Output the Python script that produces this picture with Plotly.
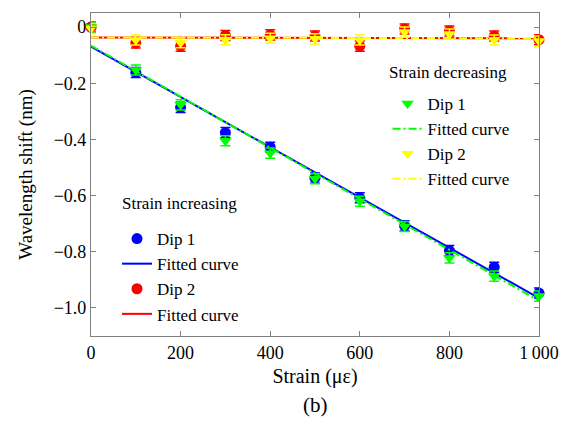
import plotly.graph_objects as go

strain = [0, 100, 200, 300, 400, 500, 600, 700, 800, 900, 1000]

inc_dip1 = [0.0, -0.162, -0.286, -0.376, -0.428, -0.538, -0.608, -0.708, -0.796, -0.855, -0.947]
inc_dip2 = [0.0, -0.057, -0.068, -0.030, -0.028, -0.032, -0.068, -0.007, -0.014, -0.032, -0.045]
dec_dip1 = [0.0, -0.153, -0.277, -0.405, -0.449, -0.540, -0.620, -0.710, -0.822, -0.887, -0.958]
dec_dip2 = [-0.005, -0.046, -0.056, -0.045, -0.040, -0.042, -0.046, -0.018, -0.025, -0.046, -0.050]
err = [0.018] * 11

fit_x = [0, 1000]
fit_inc_dip1 = [-0.070, -0.965]
fit_inc_dip2 = [-0.037, -0.040]
fit_dec_dip1 = [-0.066, -0.975]
fit_dec_dip2 = [-0.037, -0.040]

yticks = [0, -0.2, -0.4, -0.6, -0.8, -1.0]
yticklabels = ["0", "\u22120.2", "\u22120.4", "\u22120.6", "\u22120.8", "\u22121.0"]
xticks = [0, 200, 400, 600, 800, 1000]
xticklabels = ["0", "200", "400", "600", "800", "1\u2009000"]

FONT = "Liberation Serif"
DASHDOT = "8px,3px,2px,3px"

fig = go.Figure()

def pts(y, color, symbol, name, legend, group):
    return go.Scatter(x=strain, y=y, mode="markers", name=name, legend=legend,
                      legendgroup=group,
                      marker=dict(color=color, symbol=symbol, size=11, line=dict(width=0)),
                      error_y=dict(type="data", array=err, color=color, thickness=1.5, width=5),
                      cliponaxis=False)

def fit(y, color, dash, name, legend, group):
    return go.Scatter(x=fit_x, y=y, mode="lines", name=name, legend=legend,
                      legendgroup=group,
                      line=dict(color=color, width=2, dash=dash), cliponaxis=False)

# strain increasing
fig.add_trace(pts(inc_dip1, "#0000ff", "circle", "Dip 1", "legend", "a1"))
fig.add_trace(fit(fit_inc_dip1, "#0000ff", "solid", "Fitted curve", "legend", "a2"))
fig.add_trace(pts(inc_dip2, "#ff0000", "circle", "Dip 2", "legend", "a3"))
fig.add_trace(fit(fit_inc_dip2, "#ff0000", "solid", "Fitted curve", "legend", "a4"))
# strain decreasing
fig.add_trace(pts(dec_dip1, "#00ff00", "triangle-down", "Dip 1", "legend2", "b1"))
fig.add_trace(fit(fit_dec_dip1, "#00ff00", DASHDOT, "Fitted curve", "legend2", "b2"))
fig.add_trace(pts(dec_dip2, "#ffff00", "triangle-down", "Dip 2", "legend2", "b3"))
fig.add_trace(fit(fit_dec_dip2, "#ffff00", DASHDOT, "Fitted curve", "legend2", "b4"))

axis_common = dict(showline=True, linecolor="#808080", linewidth=1.2, mirror="ticks",
                   ticks="inside", ticklen=5, tickcolor="#808080", showgrid=False,
                   zeroline=False, tickfont=dict(family=FONT, size=18, color="black"))

fig.update_layout(
    width=571, height=421,
    margin=dict(l=91, r=30, t=13, b=85),
    paper_bgcolor="white", plot_bgcolor="white",
    font=dict(family=FONT, size=17, color="black"),
    xaxis=dict(range=[0, 1000], tickvals=xticks, ticktext=xticklabels,
               title=dict(text="Strain (\u03bc\u03b5)", font=dict(family=FONT, size=20), standoff=7),
               **axis_common),
    yaxis=dict(range=[-1.1, 0.05], tickvals=yticks, ticktext=yticklabels,
               title=dict(text="Wavelength shift (nm)", font=dict(family=FONT, size=19), standoff=15),
               **axis_common),
    legend=dict(x=0.058, y=0.356, xanchor="left", yanchor="top", bgcolor="rgba(0,0,0,0)",
                font=dict(family=FONT, size=17), tracegroupgap=0, traceorder="grouped"),
    legend2=dict(x=0.662, y=0.774, xanchor="left", yanchor="top", bgcolor="rgba(0,0,0,0)",
                 font=dict(family=FONT, size=17), tracegroupgap=0, traceorder="grouped"),
    annotations=[
        dict(text="(b)", xref="paper", yref="paper", x=0.5, y=(336 - 405) / 323,
             xanchor="center", yanchor="middle", showarrow=False,
             font=dict(family=FONT, size=21)),
        dict(text="Strain increasing", xref="paper", yref="paper", x=(120 - 91) / 450,
             y=(336 - 204) / 323, xanchor="left", yanchor="middle", showarrow=False,
             font=dict(family=FONT, size=17)),
        dict(text="Strain decreasing", xref="paper", yref="paper", x=(388 - 91) / 450,
             y=(336 - 72) / 323, xanchor="left", yanchor="middle", showarrow=False,
             font=dict(family=FONT, size=17)),
    ],
)

fig.write_html("out.html")
